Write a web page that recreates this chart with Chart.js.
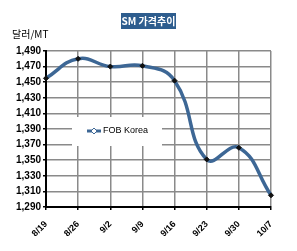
<!DOCTYPE html>
<html>
<head>
<meta charset="utf-8">
<script src="https://cdn.jsdelivr.net/npm/chart.js@4.4.0/dist/chart.umd.min.js"></script>
<style>
  html, body { margin: 0; padding: 0; background: #fff; }
  #wrap { width: 297px; height: 251px; }
</style>
</head>
<body>
<div id="wrap"><canvas id="chart" width="297" height="251"></canvas></div>
<script>
'use strict';

// weekly SM price, FOB Korea (USD/MT)
var weeks = ['8/19', '8/26', '9/2', '9/9', '9/16', '9/23', '9/30', '10/7'];
var fobKorea = [1455, 1480, 1470, 1471, 1452, 1351, 1366, 1305];
var seriesName = 'FOB Korea';
var chartTitle = 'SM 가격추이';
var unitLabel = '달러/MT';
var yMin = 1290, yMax = 1490, yStep = 20;

var lineBlue = '#3d6795';

// white page, title box, unit text and the in-plot legend
var decor = {
    id: 'decor',
    beforeDraw: function (chart) {
        var ctx = chart.ctx;
        ctx.save();
        ctx.fillStyle = '#fff';
        ctx.fillRect(0, 0, chart.width, chart.height);
        ctx.restore();
    },
    beforeDatasetsDraw: function (chart) {
        var ctx = chart.ctx;
        ctx.save();
        // legend box hides the grid behind it
        ctx.fillStyle = '#fff';
        ctx.fillRect(72, 117, 90, 29);
        ctx.strokeStyle = lineBlue;
        ctx.lineWidth = 3;
        ctx.beginPath();
        ctx.moveTo(87, 131);
        ctx.lineTo(101, 131);
        ctx.stroke();
        ctx.fillStyle = '#fff';
        ctx.lineWidth = 1;
        ctx.beginPath();
        ctx.moveTo(94, 128); ctx.lineTo(97, 131); ctx.lineTo(94, 134); ctx.lineTo(91, 131);
        ctx.closePath();
        ctx.fill();
        ctx.stroke();
        ctx.fillStyle = '#000';
        ctx.font = '9px "Liberation Sans", Arial, sans-serif';
        ctx.textBaseline = 'middle';
        ctx.fillText(seriesName, 103, 131);
        ctx.restore();
    },
    afterDraw: function (chart) {
        var ctx = chart.ctx;
        ctx.save();
        ctx.fillStyle = '#2e5d8e';
        ctx.fillRect(121, 13, 55, 16);
        ctx.fillStyle = '#fff';
        ctx.font = 'bold 10px "Noto Sans CJK KR", sans-serif';
        ctx.textAlign = 'center';
        ctx.textBaseline = 'middle';
        ctx.fillText(chartTitle, 148.5, 21);
        ctx.fillStyle = '#000';
        ctx.font = '10px "Noto Sans CJK KR", sans-serif';
        ctx.textAlign = 'left';
        ctx.fillText(unitLabel, 12, 34);
        ctx.restore();
    }
};

new Chart(document.getElementById('chart'), {
    type: 'line',
    data: {
        labels: weeks,
        datasets: [{
            label: seriesName,
            data: fobKorea,
            borderColor: lineBlue,
            borderWidth: 3.5,
            tension: 0.45,
            pointStyle: 'rectRot',
            pointRadius: 2.5,
            pointBackgroundColor: '#111',
            pointBorderColor: '#111',
            pointBorderWidth: 1,
            clip: false
        }]
    },
    plugins: [decor],
    options: {
        responsive: false,
        animation: false,
        devicePixelRatio: 1,
        layout: { padding: { left: 0, top: 51, right: 26, bottom: 0 } },
        plugins: {
            legend: { display: false },
            tooltip: { enabled: false }
        },
        scales: {
            x: {
                offset: false,
                grid: { color: '#8a8a8a', lineWidth: 1.5, tickLength: 3, tickColor: '#000' },
                border: { color: '#000', width: 2 },
                ticks: {
                    minRotation: 45,
                    maxRotation: 45,
                    padding: 9,
                    color: '#000',
                    font: { family: '"Liberation Sans", Arial, sans-serif', size: 9, weight: 'bold' }
                },
                afterFit: function (scale) { scale.height = 44; }
            },
            y: {
                min: yMin,
                max: yMax,
                grid: { color: '#8a8a8a', lineWidth: 1.5, tickLength: 3, tickColor: '#000' },
                border: { color: '#000', width: 2 },
                ticks: {
                    stepSize: yStep,
                    padding: 2,
                    color: '#000',
                    font: { family: '"Liberation Sans", Arial, sans-serif', size: 10, weight: 'bold' },
                    callback: function (v) { return v.toLocaleString('en-US'); }
                },
                afterFit: function (scale) { scale.width = 46; }
            }
        }
    }
});
</script>
</body>
</html>
